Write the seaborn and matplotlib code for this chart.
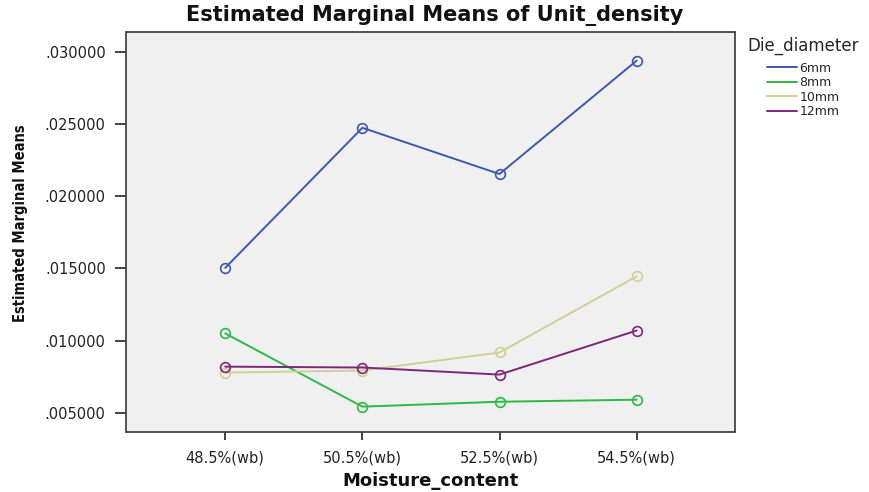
import matplotlib
matplotlib.use("Agg")
import matplotlib.pyplot as plt
import seaborn as sns
import pandas as pd

moisture = ["48.5%(wb)", "50.5%(wb)", "52.5%(wb)", "54.5%(wb)"]
die_diameters = ["6mm", "8mm", "10mm", "12mm"]
means_6mm = [0.01503, 0.02473, 0.02153, 0.02938]
means_8mm = [0.01049, 0.00542, 0.00576, 0.00590]
means_10mm = [0.00778, 0.00792, 0.00917, 0.01444]
means_12mm = [0.00819, 0.00813, 0.00764, 0.01069]
y_ticks = [0.005, 0.010, 0.015, 0.020, 0.025, 0.030]
y_tick_labels = [".005000", ".010000", ".015000", ".020000", ".025000", ".030000"]
colors = ["#3E58AC", "#2EB848", "#D3CE97", "#7C287A"]

rows = []
for die, vals in zip(die_diameters, [means_6mm, means_8mm, means_10mm, means_12mm]):
    for m, v in zip(moisture, vals):
        rows.append({"Moisture_content": m, "Die_diameter": die, "Mean": v})
df = pd.DataFrame(rows)

sns.set_theme(style="white")
plt.rcParams["font.family"] = ["DejaVu Sans"]

fig = plt.figure(figsize=(8.7, 4.92), dpi=100)
ax = fig.add_axes([126.5 / 870, 1 - 432.3 / 492, (734.7 - 126.5) / 870, (432.3 - 32) / 492])
ax.set_facecolor("#F0F0F0")

sns.lineplot(data=df, x="Moisture_content", y="Mean", hue="Die_diameter",
             hue_order=die_diameters, palette=colors, marker="o", markersize=7,
             linewidth=1.4, ax=ax, sort=False)
for ln in ax.lines:
    ln.set_markerfacecolor("none")
    ln.set_markeredgecolor(ln.get_color())
    ln.set_markeredgewidth(1.2)

ax.set_xlim(-0.72, 3.715)
ax.set_ylim(0.003643, 0.031364)
ax.set_yticks(y_ticks)
ax.set_yticklabels(y_tick_labels)

for sp in ax.spines.values():
    sp.set_visible(True)
    sp.set_color("#444444")
    sp.set_linewidth(1.3)

ax.tick_params(axis="y", which="major", left=True, length=8, width=1.3, color="#333333",
               pad=7, labelsize=10.5, labelcolor="#222222")
ax.tick_params(axis="x", which="major", bottom=True, length=6, width=1.3, color="#333333",
               pad=7, labelsize=10.5, labelcolor="#222222")

fig.text(0.5, 1 - 15 / 492, "Estimated Marginal Means of Unit_density", fontsize=15,
         fontweight="bold", color="#111111", ha="center", va="center")
ax.set_xlabel("Moisture_content", fontsize=13, fontweight="bold", color="#111111")
ax.xaxis.set_label_coords(0.5, -0.098)
ax.set_ylabel("Estimated Marginal Means", fontsize=10.5, fontweight="bold",
              fontstretch="condensed", color="#111111")
ax.yaxis.set_label_coords(-0.162, 0.522)

handles, labels = ax.get_legend_handles_labels()
for h in handles:
    h.set_marker("")
leg = ax.legend(handles, labels, title="Die_diameter", loc="upper left",
                bbox_to_anchor=(745 / 870, 1 - 34 / 492), bbox_transform=fig.transFigure,
                frameon=False, fontsize=9, title_fontsize=12, handlelength=2.4,
                labelspacing=0.12, handletextpad=0.2, borderaxespad=0, borderpad=0.2)
leg._legend_box.sep = 5

fig.savefig("out.png", dpi=100)
